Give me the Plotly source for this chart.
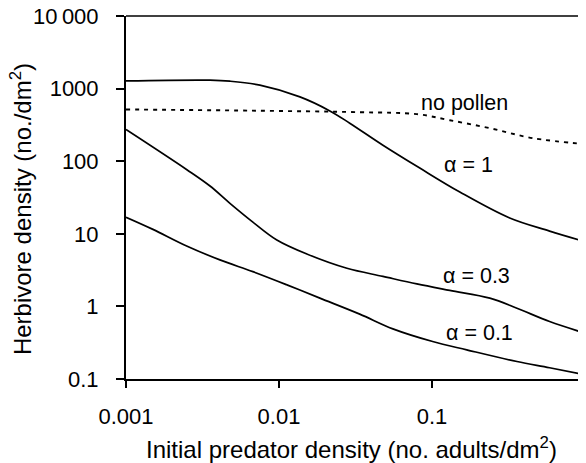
import plotly.graph_objects as go
import math

# ---- data ----
x_a1 = [0.001, 0.00354, 0.00478, 0.0075, 0.0137, 0.0215, 0.0290, 0.0478, 0.0832, 0.152, 0.322, 0.587, 1.0]
y_a1 = [1276, 1306, 1265, 1114, 769, 493, 334, 166, 80.4, 37.6, 16.5, 10.9, 7.8]

x_np = [0.001, 0.00646, 0.0337, 0.0796, 0.1306, 0.2388, 0.455, 1.0]
y_np = [516, 497, 473, 445, 367, 285, 208, 172]

x_a03 = [0.001, 0.0025, 0.00354, 0.00478, 0.00675, 0.00968, 0.0152, 0.0278, 0.0478, 0.0796, 0.1306, 0.2388, 0.359, 0.587, 1.0]
y_a03 = [273.5, 76.4, 45.5, 26.3, 14.5, 8.22, 5.27, 3.35, 2.59, 2.04, 1.66, 1.30, 0.944, 0.618, 0.428]

x_a01 = [0.001, 0.0015, 0.00249, 0.00411, 0.00675, 0.01127, 0.0185, 0.0337, 0.0555, 0.101, 0.1687, 0.359, 0.587, 1.0]
y_a01 = [16.9, 11.5, 6.79, 4.37, 3.01, 1.98, 1.30, 0.782, 0.490, 0.328, 0.252, 0.174, 0.143, 0.114]

x_ticks = [0.001, 0.01, 0.1, 1]
x_ticktext = ["0.001", "0.01", "0.1", "1"]
y_ticks = [0.1, 1, 10, 100, 1000, 10000]
y_ticktext = ["0.1", "1", "10", "100", "1000", "10\u2009000"]

labels = ["no pollen", "\u03b1 = 1", "\u03b1 = 0.3", "\u03b1 = 0.1"]
label_x = [0.1637, 0.1738, 0.1963, 0.2037]
label_y = [630, 88.3, 2.62, 0.437]

x_title = "Initial predator density (no. adults/dm<sup>2</sup>)"
y_title = "Herbivore density (no./dm<sup>2</sup>)"

FONT = "Liberation Sans, Arial, Helvetica, sans-serif"

fig = go.Figure()
line_style = dict(color="black", width=1.7, shape="spline", smoothing=1.0)
fig.add_trace(go.Scatter(x=x_a1, y=y_a1, mode="lines", line=line_style))
fig.add_trace(go.Scatter(x=x_np, y=y_np, mode="lines",
                         line=dict(line_style, width=1.9, dash="4px,5px")))
fig.add_trace(go.Scatter(x=x_a03, y=y_a03, mode="lines", line=line_style))
fig.add_trace(go.Scatter(x=x_a01, y=y_a01, mode="lines", line=line_style))

for t, lx, ly in zip(labels, label_x, label_y):
    fig.add_annotation(x=math.log10(lx), y=math.log10(ly), text=t, showarrow=False,
                       xref="x", yref="y", font=dict(family=FONT, size=21.5, color="black"))

# axis titles placed as annotations
fig.add_annotation(x=0.5 - 4.5 / 459, y=-0.19, xref="paper", yref="paper", text=x_title,
                   showarrow=False, xanchor="center", yanchor="middle",
                   font=dict(family=FONT, size=24, color="black"))
fig.add_annotation(x=-105 / 459, y=0.468, xref="paper", yref="paper", text=y_title,
                   showarrow=False, xanchor="center", yanchor="middle", textangle=-90,
                   font=dict(family=FONT, size=24, color="black"))

# top frame line
fig.add_shape(type="line", xref="paper", yref="paper", x0=0, x1=1, y0=1, y1=1,
              line=dict(color="black", width=1.6))

fig.update_xaxes(type="log", range=[-3, 0], tickvals=x_ticks, ticktext=x_ticktext,
                 automargin=False, ticklabelstandoff=10, ticklabeloverflow="allow",
                 showgrid=False, zeroline=False, showline=True, mirror=False,
                 linecolor="black", linewidth=2,
                 ticks="outside", ticklen=7, tickwidth=1.5, tickcolor="black",
                 tickfont=dict(family=FONT, size=22, color="black"))
fig.update_yaxes(type="log", range=[-1, 4], tickvals=y_ticks, ticktext=y_ticktext,
                 automargin=False, ticklabelstandoff=13, ticklabeloverflow="allow",
                 showgrid=False, zeroline=False, showline=True, mirror=False,
                 linecolor="black", linewidth=2,
                 ticks="outside", ticklen=8, tickwidth=1.5, tickcolor="black",
                 tickfont=dict(family=FONT, size=22, color="black"))

# margins account for the page's default 8px body offset
fig.update_layout(width=586, height=463, showlegend=False,
                  margin=dict(l=118, r=9, t=8, b=92, autoexpand=False),
                  plot_bgcolor="white", paper_bgcolor="white")

fig.write_html("out.html")
